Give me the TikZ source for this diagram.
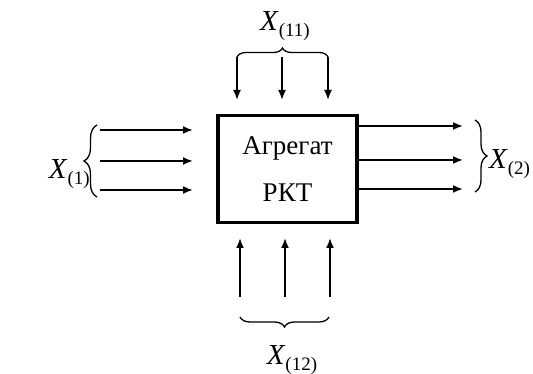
\documentclass[tikz,border=0pt]{standalone}
\usepackage{fontspec}
\setmainfont{Liberation Serif}
\usepackage{tikz}
\usetikzlibrary{arrows.meta, positioning, decorations.pathreplacing}

\newcommand{\xlab}[1]{\textit{X}\raisebox{-0.45ex}{\fontsize{19}{20}\selectfont (#1)}}

\tikzset{
    arr/.style={line width=1.8pt, -{Latex[length=10pt,width=8pt]}},
    brc/.style={line width=1.3pt, decorate, decoration={brace, amplitude=#1}},
    xlabel/.style={font=\fontsize{29}{32}\selectfont, inner sep=0pt}
}

\begin{document}
\begin{tikzpicture}[x=1pt, y=1pt]
        % Cadre
        \useasboundingbox (0,0) rectangle (533,374);

        % --- Bloc central ---
        \node[draw, line width=3.5pt, minimum width=139pt, minimum height=107pt,
              font=\fontsize{27}{47}\selectfont, align=center] (agr) at (287.5,205)
              {Агрегат\\РКТ};

        % --- Entrées à gauche ---
        \foreach \y [count=\i] in {244,213,184} {
            \coordinate (in\i) at (100,\y);
            \coordinate (inend\i) at (193,\y);
            \draw[arr] (in\i) -- (inend\i);
        }
        \draw[brc=13pt] (97,177) -- (97,249);
        \node[xlabel, anchor=east] (x1) at (90,200) {\xlab{1}};

        % --- Entrées en haut ---
        \foreach \x [count=\i] in {237,282,328} {
            \coordinate (top\i) at (\x,317);
            \coordinate (topend\i) at (\x,274);
            \draw[arr] (top\i) -- (topend\i);
        }
        \draw[brc=9pt] (top1) -- (top3);
        \node[xlabel] (x11) at (285,348) {\xlab{11}};

        % --- Sorties à droite ---
        \foreach \y [count=\i] in {248,214,185} {
            \coordinate (out\i) at (463,\y);
            \draw[arr] (agr.east |- out\i) -- (out\i);
        }
        \draw[brc=12pt] (475,254) -- (475,182);
        \node[xlabel, anchor=west] (x2) at (489,210) {\xlab{2}};

        % --- Entrées en bas ---
        \foreach \x [count=\i] in {240,285,330} {
            \coordinate (bot\i) at (\x,77);
            \coordinate (botend\i) at (\x,136);
            \draw[arr] (bot\i) -- (botend\i);
        }
        \draw[brc=10pt] (329,57) -- (240,57);
        \node[xlabel] (x12) at (292,14) {\xlab{12}};
    \end{tikzpicture}
\end{document}
